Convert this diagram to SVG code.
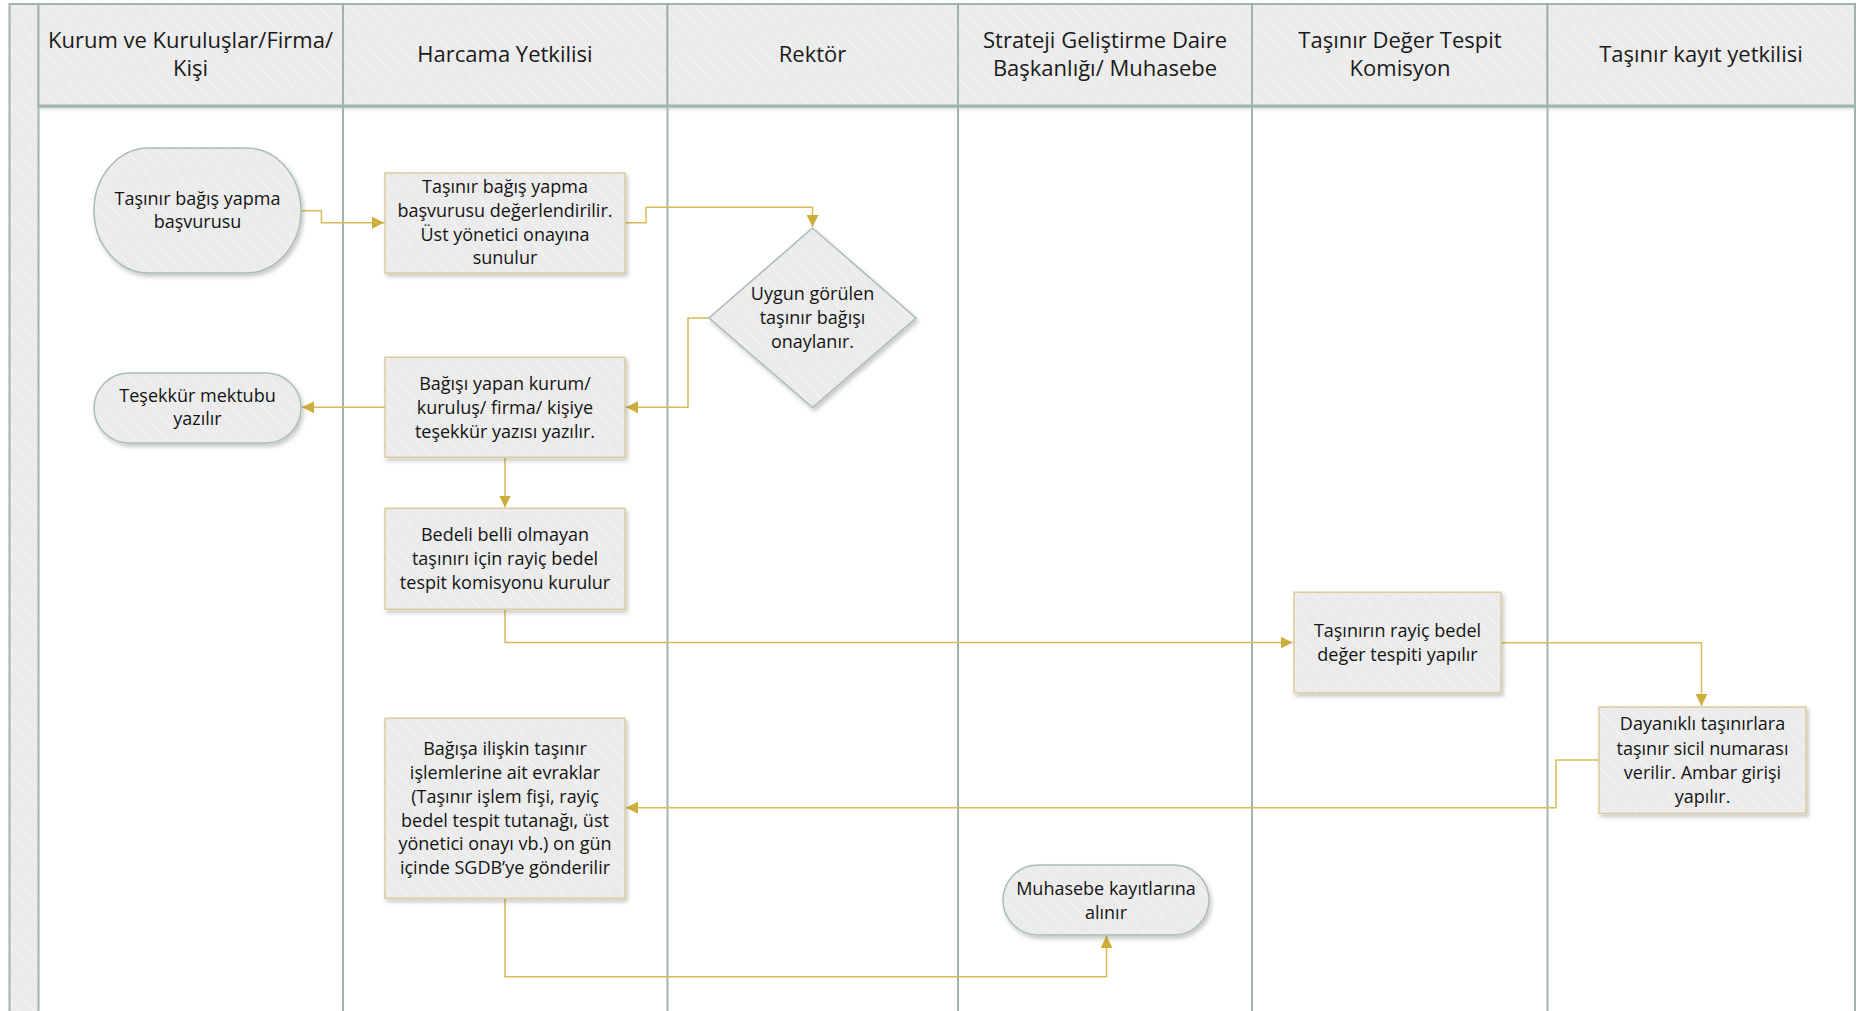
<svg xmlns="http://www.w3.org/2000/svg" width="1856" height="1011" viewBox="0 0 1856 1011">
<defs>
  <pattern id="hatch" patternUnits="userSpaceOnUse" width="12" height="12" patternTransform="rotate(-40)">
    <rect width="12" height="12" fill="#ebebeb"/>
    <line x1="0" y1="0" x2="0" y2="12" stroke="#f4f4f4" stroke-width="2"/>
  </pattern>
  <filter id="sh" x="-10%" y="-10%" width="130%" height="130%">
    <feDropShadow dx="2" dy="3" stdDeviation="2" flood-color="#000" flood-opacity="0.22"/>
  </filter>
  <linearGradient id="hsh" x1="0" y1="0" x2="0" y2="1">
    <stop offset="0" stop-color="#b9c4c0" stop-opacity="0.7"/>
    <stop offset="1" stop-color="#ffffff" stop-opacity="0"/>
  </linearGradient>
  <marker id="arr" markerUnits="userSpaceOnUse" markerWidth="13" markerHeight="12" refX="12" refY="6" orient="auto">
    <path d="M0,0 L12,6 L0,12 z" fill="#cdae3c"/>
  </marker>
  <style>
    .lane{stroke:#a0b4ad;stroke-width:2;fill:none}
    .hdr{fill:url(#hatch);stroke:#a0b4ad;stroke-width:2}
    .ht{font-family:"Open Sans","Noto Sans",sans-serif;font-size:22px;fill:#1a1a1a;text-anchor:middle}
    .proc{fill:url(#hatch);stroke:#d9cd9f;stroke-width:1.5;filter:url(#sh)}
    .term{fill:url(#hatch);stroke:#a9bdb4;stroke-width:1.5;filter:url(#sh)}
    .nt{font-family:"Open Sans","Noto Sans",sans-serif;font-size:18px;fill:#141414;text-anchor:middle}
    .con{fill:none;stroke:#d6bb56;stroke-width:1.5}
  </style>
</defs>
<rect width="1856" height="1011" fill="#ffffff"/>

<g id="pool">
  <rect x="9.5" y="4" width="29" height="1010" class="hdr"/>
  <rect x="38.5" y="4" width="304.5" height="102" class="hdr"/>
  <rect x="343" y="4" width="324.5" height="102" class="hdr"/>
  <rect x="667.5" y="4" width="290.5" height="102" class="hdr"/>
  <rect x="958" y="4" width="294" height="102" class="hdr"/>
  <rect x="1252" y="4" width="295.5" height="102" class="hdr"/>
  <rect x="1547.5" y="4" width="307.5" height="102" class="hdr"/>
  <rect x="39.5" y="107" width="1815" height="7" fill="url(#hsh)"/>
  <line x1="38.5" y1="106" x2="1855" y2="106" stroke="#a0b4ad" stroke-width="3"/>
  <line x1="343" y1="106" x2="343" y2="1011" class="lane"/>
  <line x1="667.5" y1="106" x2="667.5" y2="1011" class="lane"/>
  <line x1="958" y1="106" x2="958" y2="1011" class="lane"/>
  <line x1="1252" y1="106" x2="1252" y2="1011" class="lane"/>
  <line x1="1547.5" y1="106" x2="1547.5" y2="1011" class="lane"/>
  <line x1="1855" y1="106" x2="1855" y2="1011" class="lane"/>
  <text class="ht" x="190.5" y="48">Kurum ve Kuruluşlar/Firma/</text>
  <text class="ht" x="190.5" y="76">Kişi</text>
  <text class="ht" x="505" y="62">Harcama Yetkilisi</text>
  <text class="ht" x="812.5" y="62">Rektör</text>
  <text class="ht" x="1105" y="48">Strateji Geliştirme Daire</text>
  <text class="ht" x="1105" y="76">Başkanlığı/ Muhasebe</text>
  <text class="ht" x="1400" y="48">Taşınır Değer Tespit</text>
  <text class="ht" x="1400" y="76">Komisyon</text>
  <text class="ht" x="1701" y="62">Taşınır kayıt yetkilisi</text>
</g>

<g id="connectors">
  <polyline class="con" points="301,210.7 321.4,210.7 321.4,222.7 384,222.7" marker-end="url(#arr)"/>
  <polyline class="con" points="625,222.7 646,222.7 646,207.3 812.5,207.3 812.5,227" marker-end="url(#arr)"/>
  <polyline class="con" points="709,318 688,318 688,407.3 626,407.3" marker-end="url(#arr)"/>
  <polyline class="con" points="385,407.3 302,407.3" marker-end="url(#arr)"/>
  <polyline class="con" points="505,457.3 505,507.5" marker-end="url(#arr)"/>
  <polyline class="con" points="505,609.3 505,642.5 1292.5,642.5" marker-end="url(#arr)"/>
  <polyline class="con" points="1500.5,642.7 1701.5,642.7 1701.5,706" marker-end="url(#arr)"/>
  <polyline class="con" points="1599,760 1556,760 1556,807.7 626,807.7" marker-end="url(#arr)"/>
  <polyline class="con" points="505,898.3 505,976.7 1106.5,976.7 1106.5,936" marker-end="url(#arr)"/>
</g>

<g id="n1">
  <rect class="term" x="94" y="148" width="207" height="125" rx="55" ry="62.5"/>
  <text class="nt" x="197.5" y="204.5">Taşınır bağış yapma</text>
  <text class="nt" x="197.5" y="228">başvurusu</text>
</g>
<g id="n2">
  <rect class="proc" x="385" y="173" width="240" height="100"/>
  <text class="nt" x="505" y="193">Taşınır bağış yapma</text>
  <text class="nt" x="505" y="217">başvurusu değerlendirilir.</text>
  <text class="nt" x="505" y="241">Üst yönetici onayına</text>
  <text class="nt" x="505" y="264">sunulur</text>
</g>
<g id="n3">
  <polygon class="term" points="812.5,228 916,318 812.5,407.5 709,318"/>
  <text class="nt" x="812.5" y="300">Uygun görülen</text>
  <text class="nt" x="812.5" y="324">taşınır bağışı</text>
  <text class="nt" x="812.5" y="348">onaylanır.</text>
</g>
<g id="n4">
  <rect class="proc" x="385" y="357.3" width="240" height="100"/>
  <text class="nt" x="505" y="389.5">Bağışı yapan kurum/</text>
  <text class="nt" x="505" y="413.5">kuruluş/ firma/ kişiye</text>
  <text class="nt" x="505" y="437.5">teşekkür yazısı yazılır.</text>
</g>
<g id="n5">
  <rect class="term" x="94" y="373" width="207" height="70" rx="35" ry="35"/>
  <text class="nt" x="197.5" y="401.5">Teşekkür mektubu</text>
  <text class="nt" x="197.5" y="424.5">yazılır</text>
</g>
<g id="n6">
  <rect class="proc" x="385" y="508.3" width="240" height="101"/>
  <text class="nt" x="505" y="541">Bedeli belli olmayan</text>
  <text class="nt" x="505" y="565">taşınırı için rayiç bedel</text>
  <text class="nt" x="505" y="589">tespit komisyonu kurulur</text>
</g>
<g id="n7">
  <rect class="proc" x="1294" y="592.3" width="207" height="100.4"/>
  <text class="nt" x="1397.5" y="636.5">Taşınırın rayiç bedel</text>
  <text class="nt" x="1397.5" y="661">değer tespiti yapılır</text>
</g>
<g id="n8">
  <rect class="proc" x="1599" y="707" width="207" height="106.3"/>
  <text class="nt" x="1702.5" y="730">Dayanıklı taşınırlara</text>
  <text class="nt" x="1702.5" y="754.5">taşınır sicil numarası</text>
  <text class="nt" x="1702.5" y="778.5">verilir. Ambar girişi</text>
  <text class="nt" x="1702.5" y="802.5">yapılır.</text>
</g>
<g id="n9">
  <rect class="proc" x="385" y="718.3" width="240" height="180"/>
  <text class="nt" x="505" y="755">Bağışa ilişkin taşınır</text>
  <text class="nt" x="505" y="779">işlemlerine ait evraklar</text>
  <text class="nt" x="505" y="803">(Taşınır işlem fişi, rayiç</text>
  <text class="nt" x="505" y="827">bedel tespit tutanağı, üst</text>
  <text class="nt" x="505" y="850">yönetici onayı vb.) on gün</text>
  <text class="nt" x="505" y="874">içinde SGDB’ye gönderilir</text>
</g>
<g id="n10">
  <rect class="term" x="1003" y="865" width="206" height="70" rx="35" ry="35"/>
  <text class="nt" x="1106" y="895">Muhasebe kayıtlarına</text>
  <text class="nt" x="1106" y="918.5">alınır</text>
</g>
</svg>
